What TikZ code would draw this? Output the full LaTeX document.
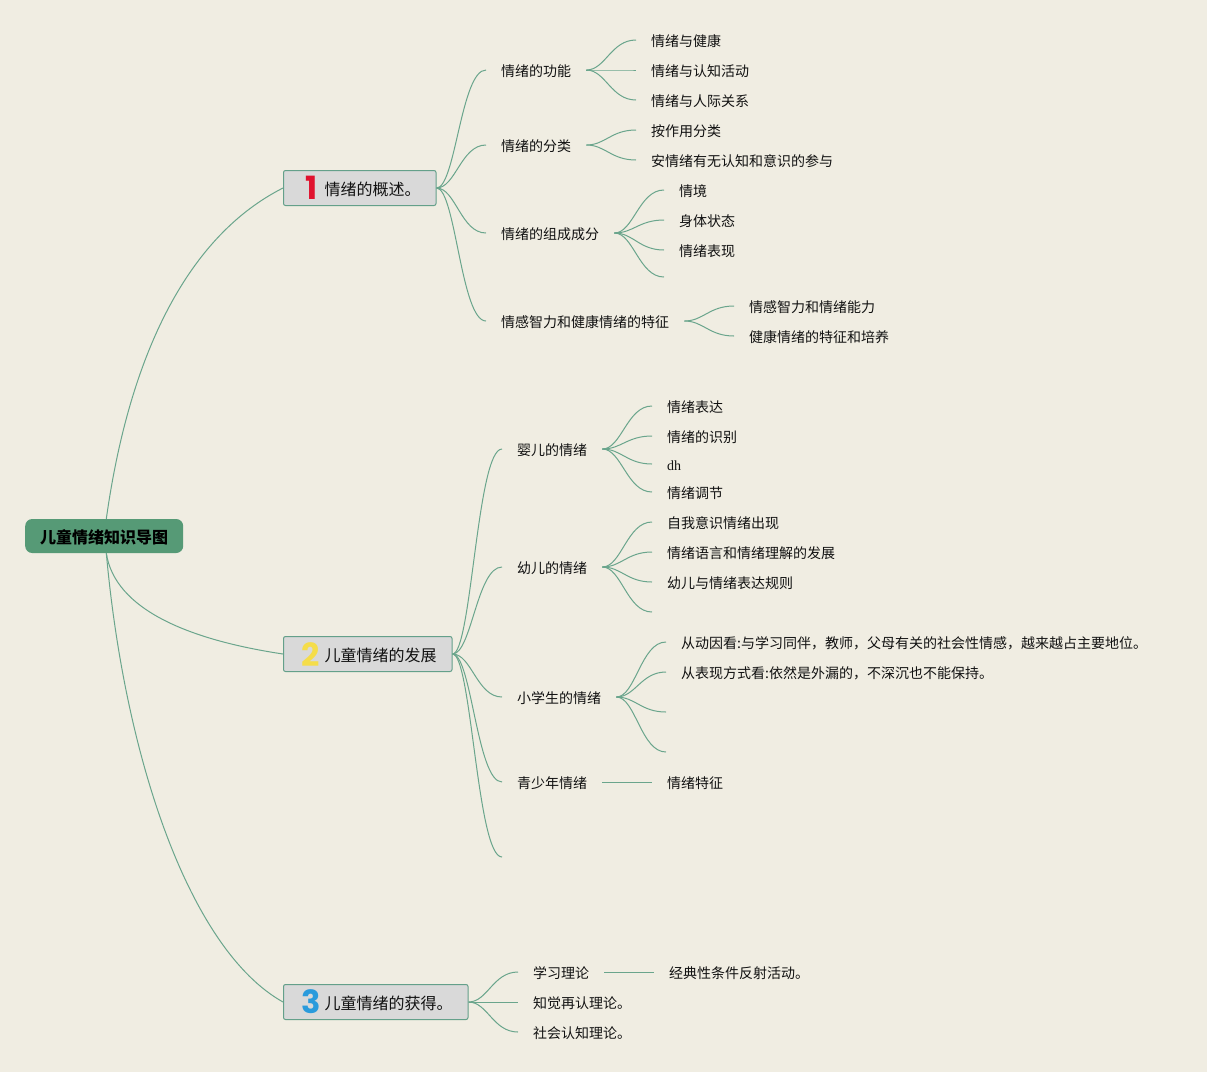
\documentclass[tikz,border=0pt]{standalone}
\usepackage{fontspec}
\setmainfont{Noto Sans CJK SC}
\newfontfamily\digitfont{Poppins}
\newfontfamily\serifface{Liberation Serif}
\definecolor{bgc}{HTML}{F0EDE2}
\definecolor{linec}{HTML}{6AA58C}
\definecolor{rootc}{HTML}{569A76}
\definecolor{topicc}{HTML}{D9D9D9}
\definecolor{topicb}{HTML}{64A08A}
\definecolor{txtc}{HTML}{111111}
\definecolor{onec}{HTML}{E0122E}
\definecolor{twoc}{HTML}{F5DD4A}
\definecolor{threec}{HTML}{2A9BDC}
\tikzset{
  rootbox/.style={draw=none,fill=rootc,rounded corners=7pt,inner xsep=15pt,inner sep=0pt,minimum width=158pt,minimum height=34pt,text height=14.2pt,text depth=0pt,font=\fontsize{16}{18}\selectfont\bfseries,text=black,anchor=west},
  topicbox/.style={draw=topicb,line width=1pt,fill=topicc,rounded corners=2pt,inner xsep=15.5pt,inner ysep=0pt,minimum height=35pt,text height=14.2pt,text depth=0pt,font=\fontsize{16}{18}\selectfont,text=txtc,anchor=west},
  leaf/.style={inner xsep=15pt,inner ysep=0pt,text height=12.3pt,text depth=0pt,font=\fontsize{14}{16}\selectfont,text=txtc,anchor=west},
  numeral/.style={inner sep=0pt,font=\fontsize{32}{34}\digitfont\bfseries},
  conn/.style={draw=linec,line width=1pt},
  sweep/.style={out=0,in=180,out distance=19pt,in distance=25pt},
}
\begin{document}
\begin{tikzpicture}[x=1pt,y=-1pt]
\path[use as bounding box,fill=bgc] (0,0) rectangle (1207,1072);
\node[rootbox] (root) at (25,536) {儿童情绪知识导图};
\node[topicbox] (t1) at (283,188) {\hspace*{25.5pt}情绪的概述。};
\node[topicbox] (t2) at (283,654) {\hspace*{25.5pt}儿童情绪的发展};
\node[topicbox] (t3) at (283,1002) {\hspace*{25.5pt}儿童情绪的获得。};
\node[numeral,text=onec] (n1) at (312,188) {1};
\node[numeral,text=twoc] (n2) at (311,655) {2};
\node[numeral,text=threec] (n3) at (311,1002) {3};
% topic 1
\node[leaf] (a) at (486,70) {情绪的功能};
\node[leaf] (b) at (486,145) {情绪的分类};
\node[leaf] (c) at (486,233) {情绪的组成成分};
\node[leaf] (d) at (486,321) {情感智力和健康情绪的特征};
\node[leaf] (a1) at (636,40) {情绪与健康};
\node[leaf] (a2) at (636,70) {情绪与认知活动};
\node[leaf] (a3) at (636,100) {情绪与人际关系};
\node[leaf] (b1) at (636,130) {按作用分类};
\node[leaf] (b2) at (636,160) {安情绪有无认知和意识的参与};
\node[leaf] (c1) at (664,190) {情境};
\node[leaf] (c2) at (664,220) {身体状态};
\node[leaf] (c3) at (664,250) {情绪表现};
\coordinate (c4) at (664,277);
\node[leaf] (d1) at (734,306) {情感智力和情绪能力};
\node[leaf] (d2) at (734,336) {健康情绪的特征和培养};
% topic 2
\node[leaf] (e) at (502,449) {婴儿的情绪};
\node[leaf] (f) at (502,567) {幼儿的情绪};
\node[leaf] (g) at (502,697) {小学生的情绪};
\node[leaf] (h) at (502,782) {青少年情绪};
\coordinate (i) at (502,857);
\node[leaf] (e1) at (652,406) {情绪表达};
\node[leaf] (e2) at (652,436) {情绪的识别};
\node[leaf] (e3) at (652,464) {\serifface dh};
\node[leaf] (e4) at (652,492) {情绪调节};
\node[leaf] (f1) at (652,522) {自我意识情绪出现};
\node[leaf] (f2) at (652,552) {情绪语言和情绪理解的发展};
\node[leaf] (f3) at (652,582) {幼儿与情绪表达规则};
\coordinate (f4) at (652,612);
\node[leaf] (g1) at (666,642) {从动因看:与学习同伴，教师，父母有关的社会性情感，越来越占主要地位。};
\node[leaf] (g2) at (666,672) {从表现方式看:依然是外漏的，不深沉也不能保持。};
\coordinate (g3) at (666,712);
\coordinate (g4) at (666,752);
\node[leaf] (h1) at (652,782) {情绪特征};
% topic 3
\node[leaf] (j) at (518,972) {学习理论};
\node[leaf] (k) at (518,1002) {知觉再认理论。};
\node[leaf] (l) at (518,1032) {社会认知理论。};
\node[leaf] (j1) at (654,972) {经典性条件反射活动。};
% root connectors
\draw[conn] (root.83) .. controls (130,350) and (190,235) .. (t1.west);
\draw[conn] (root.-83) .. controls (115,610) and (190,640) .. (t2.west);
\draw[conn] (root.-83) .. controls (125,760) and (190,950) .. (t3.west);
% branch connectors
\foreach \s/\e in {t1/a,t1/b,t1/c,t1/d,a/a1,a/a2,a/a3,b/b1,b/b2,c/c1,c/c2,c/c3,d/d1,d/d2,
  t2/e,t2/f,t2/g,t2/h,e/e1,e/e2,e/e3,e/e4,f/f1,f/f2,f/f3,g/g1,g/g2,h/h1,
  t3/j,t3/k,t3/l,j/j1}
  \draw[conn] (\s.east) to[sweep] (\e.west);
\foreach \s/\e in {c/c4,f/f4,g/g3,g/g4,t2/i}
  \draw[conn] (\s.east) to[sweep] (\e);
\end{tikzpicture}
\end{document}
